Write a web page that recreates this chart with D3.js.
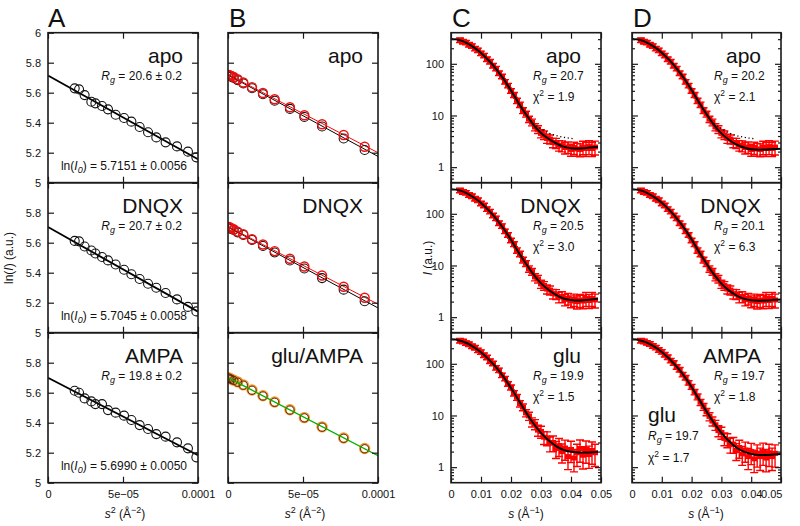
<!DOCTYPE html>
<html><head><meta charset="utf-8">
<script src="https://cdn.jsdelivr.net/npm/d3@7"></script>
<style>
body{margin:0;background:#fff}
svg{font-family:"Liberation Sans",Arial,Helvetica,sans-serif}
</style></head><body>
<svg id="c" width="800" height="526"></svg>
<script>
// ---------------- DATA ----------------
// Panel A: Guinier plots (s^2 vs ln I)
const guinierS2A = [1.78e-5,2.07e-5,2.44e-5,2.89e-5,3.16e-5,3.60e-5,4.00e-5,4.51e-5,5.07e-5,5.56e-5,6.11e-5,6.67e-5,7.22e-5,7.84e-5,8.60e-5,9.33e-5,9.89e-5];
const lnIApoA  = [5.629,5.622,5.584,5.540,5.529,5.511,5.489,5.453,5.431,5.407,5.371,5.336,5.302,5.269,5.242,5.207,5.169];
const lnIDnqxA = [5.612,5.609,5.575,5.548,5.528,5.505,5.482,5.455,5.420,5.390,5.358,5.326,5.300,5.265,5.222,5.172,5.142];
const lnIAmpaA = [5.613,5.600,5.562,5.542,5.524,5.524,5.484,5.467,5.447,5.418,5.384,5.358,5.324,5.307,5.269,5.229,5.169];
const guinierLineS2 = [0, 1e-4];
const guinierLinesA = [[5.7151,5.1566],[5.7045,5.1406],[5.6990,5.1831]];
const namesA = ["apo","DNQX","AMPA"];
const rgA = ["20.6 ± 0.2","20.7 ± 0.2","19.8 ± 0.2"];
const lnI0A = ["5.7151 ± 0.0056","5.7045 ± 0.0058","5.6990 ± 0.0050"];

// Panel B
const s2B = [0,0.11e-5,0.22e-5,0.38e-5,0.64e-5,1.02e-5,1.6e-5,2.33e-5,3.11e-5,4.13e-5,5.09e-5,6.27e-5,7.71e-5,9.11e-5];
const bApoRed    = [5.720,5.717,5.712,5.705,5.690,5.668,5.637,5.598,5.556,5.503,5.450,5.390,5.318,5.240];
const bApoBlack  = [5.718,5.713,5.707,5.698,5.684,5.662,5.630,5.590,5.546,5.492,5.438,5.375,5.295,5.218];
const bDnqxRed   = [5.707,5.703,5.696,5.690,5.674,5.656,5.623,5.588,5.544,5.493,5.441,5.381,5.306,5.233];
const bDnqxBlack = [5.705,5.700,5.692,5.685,5.669,5.651,5.618,5.578,5.535,5.481,5.428,5.364,5.287,5.210];
const bGluOrange = [5.700,5.696,5.690,5.684,5.672,5.652,5.618,5.580,5.538,5.486,5.434,5.372,5.298,5.228];
const bAmpaDark  = [5.699,5.695,5.689,5.682,5.670,5.650,5.616,5.578,5.536,5.484,5.432,5.370,5.296,5.226];
const bLinesRed   = [[5.722,5.200],[5.708,5.190]];
const bLinesBlack = [[5.718,5.175],[5.705,5.165]];
const bLineGreen  = [5.700,5.180];
const namesB = ["apo","DNQX","glu/AMPA"];

// Axis tick values / labels
const yTicksAB = [5,5.2,5.4,5.6,5.8,6];
const yTickLabelsAB = ["5","5.2","5.4","5.6","5.8","6"];
const xTicksAB = [0,5e-5,1e-4];
const xTickLabelsAB = ["0","5e\u221205","0.0001"];
const xTicksCD = [0,0.01,0.02,0.03,0.04,0.05];
const xTickLabelsCD = ["0","0.01","0.02","0.03","0.04","0.05"];
const yMajorCD = [1,10,100];
const yMajorLabelsCD = ["1","10","100"];
const yMinorCD = [0.6,0.7,0.8,0.9,2,3,4,5,6,7,8,9,20,30,40,50,60,70,80,90,200,300];

// Panels C/D: scattering profiles
const sData = [0.003,0.004,0.005,0.006,0.007,0.008,0.009,0.010,0.011,0.012,0.013,0.014,0.015,0.016,0.017,0.018,0.019,0.020,0.021,0.022,0.023,0.024,0.025,0.026,0.027,0.028,0.029,0.030,0.031,0.032,0.033,0.034,0.035,0.036,0.037,0.038,0.039,0.040,0.041,0.042,0.043,0.044,0.045,0.046,0.047,0.048];
const dataApo  = [287,268,258,235,221,198,183,160,145,123,110,92,81,66,57,45,38,30,25,19.3,16.2,12.5,10.7,8.5,7.4,6.0,5.4,4.5,4.2,3.6,3.5,3.0,2.95,2.65,2.6,2.4,2.45,2.2,2.4,2.25,2.2,2.45,2.3,2.5,2.3,2.45];
const dataDnqx = [284,266,256,233,220,196,184,159,146,124,111,93,82,66,58,46,39,30.5,26,19.6,16.8,12.8,11,8.6,7.6,6.0,5.5,4.4,4.1,3.5,3.35,2.85,2.8,2.45,2.5,2.2,2.3,2.05,2.2,2.0,2.15,2.05,2.3,2.1,2.3,2.15];
const dataGlu  = [280,271,253,241,220,205,183,169,147,133,113,102,84,75,60,52,41,35,27,22.5,17,14.5,11.2,9.8,7.5,6.8,5.2,4.9,3.8,3.7,2.9,3.0,2.3,2.6,2.0,2.35,1.6,2.2,1.5,1.9,2.3,1.7,2.2,1.75,2.1,1.9];
const dataAmpa = [281,272,255,243,222,207,186,171,150,135,116,104,87,77,62,54,43,36,28.5,23,18,14.8,11.8,9.6,7.8,6.6,5.1,4.7,3.6,3.4,2.75,2.8,2.1,2.4,1.8,2.15,1.6,2.0,1.45,1.85,1.6,2.0,1.5,1.9,1.6,1.85];
const errRow12 = [.1,.1,.1,.1,.1,.1,.1,.1,.1,.1,.1,.1,.1,.1,.1,.1,.1,.1,.11,.12,.12,.13,.13,.14,.15,.16,.17,.18,.19,.2,.2,.21,.22,.23,.24,.25,.25,.26,.27,.28,.28,.29,.3,.3,.3,.3];
const errRow3  = [.1,.1,.1,.1,.1,.1,.1,.1,.1,.1,.1,.1,.1,.1,.1,.1,.1,.11,.12,.13,.14,.15,.16,.18,.2,.22,.24,.26,.28,.3,.32,.34,.36,.38,.4,.42,.44,.44,.46,.46,.46,.46,.46,.46,.46,.46];
const fitSC = [0,0.0025,0.005,0.0075,0.01,0.0125,0.015,0.0175,0.02,0.0225,0.025,0.0275,0.03,0.0325,0.035,0.0375,0.04,0.0425,0.045,0.0475,0.049];
const fitSD = [0,0.0025,0.005,0.0075,0.01,0.0125,0.015,0.0175,0.02,0.0225,0.025,0.0275,0.03,0.0325,0.035,0.0375,0.04,0.0425,0.045,0.0475,0.05];
const fitC1 = [303,291,256,210,162,117,80,51,30.5,17.5,10.5,6.6,4.6,3.55,2.9,2.5,2.33,2.3,2.35,2.42,2.47];
const fitC2 = [300,288,254,209,162,118,81,52,31.5,18,10.8,6.7,4.5,3.4,2.7,2.3,2.15,2.1,2.15,2.22,2.27];
const fitC3 = [298,287,256,213,167,123,86,56,34,20,11.5,7.0,4.6,3.3,2.55,2.15,1.98,1.93,1.92,1.95,1.98];
const fitD1 = [303,291,257,212,164,119,81,52,31,17.8,10.6,6.6,4.5,3.4,2.75,2.4,2.22,2.18,2.2,2.25,2.28];
const fitD2 = [300,288,255,210,163,119,82,53,32,18.3,10.9,6.7,4.45,3.3,2.65,2.28,2.12,2.08,2.1,2.16,2.2];
const fitD3 = [298,287,257,215,169,125,88,58,35.5,20.5,12,7.2,4.6,3.2,2.4,2.0,1.8,1.72,1.72,1.76,1.8];
const dotS   = [0,0.0025,0.005,0.0075,0.01,0.0125,0.015,0.0175,0.02,0.0225,0.025,0.0275,0.03,0.0325,0.035,0.0375,0.04,0.041];
const dotApo = [303,291,256,210,162,117,80,51,30.5,17.6,10.7,7.0,5.5,4.6,4.1,3.8,3.6,3.55];
const namesC = ["apo","DNQX","glu"];
const namesD = ["apo","DNQX","AMPA"];
const rgC = ["20.7","20.5","19.9"], chiC = ["1.9","3.0","1.5"];
const rgD = ["20.2","20.1","19.7"], chiD = ["2.1","6.3","1.8"];
const extraD3 = {name:"glu", rg:"19.7", chi:"1.7"};

// ---------------- LAYOUT ----------------
const FONT = '"Liberation Sans", Arial, Helvetica, sans-serif';
const rowTop = [32.7,182.7,332.7], rowH = 150;
const PX = {A:[48,198], B:[228,378], C:[451,601], D:[632,781]};
const INK = "#1a1a1a";
const svg = d3.select("#c");

function addAxis(axis, tx, ty, size){
  const a = svg.append("g").attr("transform",`translate(${tx},${ty})`).call(axis);
  a.select(".domain").remove();
  a.attr("font-size", size||11).attr("font-family", FONT);
  a.selectAll("line").attr("stroke", INK).attr("stroke-width", 1.2);
  a.selectAll("text").attr("fill", "#111");
  return a;
}
function frame(x0,x1,y0,y1){
  svg.append("rect").attr("x",x0).attr("y",y0).attr("width",x1-x0).attr("height",y1-y0)
    .attr("fill","none").attr("stroke",INK).attr("stroke-width",1.6);
}
function label(x,y,txt,size,anchor){
  return svg.append("text").attr("x",x).attr("y",y).attr("font-size",size)
    .attr("text-anchor",anchor||"start").attr("fill","#111").text(txt);
}
function rgText(x,y,val,anchor){
  const t = svg.append("text").attr("x",x).attr("y",y).attr("font-size",12).attr("fill","#111").attr("text-anchor",anchor||"start");
  t.append("tspan").attr("font-style","italic").text("R");
  t.append("tspan").attr("font-style","italic").attr("font-size",9).attr("dy",3).text("g");
  t.append("tspan").attr("dy",-3).text(" = "+val);
}
function chiText(x,y,val){
  const t = svg.append("text").attr("x",x).attr("y",y).attr("font-size",12).attr("fill","#111");
  t.append("tspan").text("\u03c7");
  t.append("tspan").attr("font-size",8.5).attr("dy",-5).text("2");
  t.append("tspan").attr("dy",5).text(" = "+val);
}

// Panel letters
[["A",48],["B",229],["C",452],["D",633]].forEach(([l,x])=>label(x,26.5,l,26));

// ---------------- PANELS A & B ----------------
["A","B"].forEach(col=>{
  const [x0,x1] = PX[col];
  rowTop.forEach((top,r)=>{
    const x = d3.scaleLinear([0,1e-4],[x0,x1]);
    const y = d3.scaleLinear([5,6],[top+rowH, top]);
    const clip = "clip"+col+r;
    svg.append("clipPath").attr("id",clip).append("rect").attr("x",x0).attr("y",top).attr("width",x1-x0).attr("height",rowH);
    const g = svg.append("g").attr("clip-path",`url(#${clip})`);
    const line = d3.line().x(d=>x(d[0])).y(d=>y(d[1]));
    if(col==="A"){
      g.append("path").attr("d",line(guinierLineS2.map((s,i)=>[s,guinierLinesA[r][i]])))
        .attr("stroke","#000").attr("stroke-width",1.8).attr("fill","none");
      const vals = [lnIApoA,lnIDnqxA,lnIAmpaA][r];
      g.selectAll(null).data(guinierS2A.map((s,i)=>[s,vals[i]])).join("circle")
        .attr("cx",d=>x(d[0])).attr("cy",d=>y(d[1])).attr("r",4.5)
        .attr("fill","none").attr("stroke","#111").attr("stroke-width",1.1);
    } else {
      if(r<2){
        const blk = [bApoBlack,bDnqxBlack][r], red = [bApoRed,bDnqxRed][r];
        g.append("path").attr("d",line(guinierLineS2.map((s,i)=>[s,bLinesBlack[r][i]])))
          .attr("stroke","#000").attr("stroke-width",1).attr("fill","none");
        g.append("path").attr("d",line(guinierLineS2.map((s,i)=>[s,bLinesRed[r][i]])))
          .attr("stroke","#ff0000").attr("stroke-width",1).attr("fill","none");
        g.selectAll(null).data(s2B.map((s,i)=>[s,blk[i]])).join("circle")
          .attr("cx",d=>x(d[0])).attr("cy",d=>y(d[1])).attr("r",4.5)
          .attr("fill","none").attr("stroke","#111").attr("stroke-width",1.1);
        g.selectAll(null).data(s2B.map((s,i)=>[s,red[i]])).join("circle")
          .attr("cx",d=>x(d[0])).attr("cy",d=>y(d[1])).attr("r",4.5)
          .attr("fill","none").attr("stroke","#ee1010").attr("stroke-width",1.4);
      } else {
        g.selectAll(null).data(s2B.map((s,i)=>[s,bGluOrange[i]])).join("circle")
          .attr("cx",d=>x(d[0])).attr("cy",d=>y(d[1])).attr("r",4.6)
          .attr("fill","none").attr("stroke","#f09a30").attr("stroke-width",2.2);
        g.selectAll(null).data(s2B.map((s,i)=>[s,bAmpaDark[i]])).join("circle")
          .attr("cx",d=>x(d[0])).attr("cy",d=>y(d[1])).attr("r",4.2)
          .attr("fill","none").attr("stroke","#5a1e10").attr("stroke-width",0.9);
        g.append("path").attr("d",line(guinierLineS2.map((s,i)=>[s,bLineGreen[i]])))
          .attr("stroke","#00b000").attr("stroke-width",1.3).attr("fill","none");
      }
    }
    // axes
    addAxis(d3.axisLeft(y).tickValues(yTicksAB).tickSize(-6).tickPadding(7)
      .tickFormat((d,i)=> col==="A" && !(r>0 && i===yTicksAB.length-1) ? yTickLabelsAB[i] : ""), x0, 0);
    addAxis(d3.axisRight(y).tickValues(yTicksAB).tickSize(-6).tickFormat(""), x1, 0);
    addAxis(d3.axisTop(x).tickValues(xTicksAB).tickSize(-6).tickFormat(""), 0, top);
    addAxis(d3.axisBottom(x).tickValues(xTicksAB).tickSize(-6).tickPadding(8)
      .tickFormat((d,i)=> r===2 ? xTickLabelsAB[i] : ""), 0, top+rowH);
    frame(x0,x1,top,top+rowH);
    // texts
    const nm = col==="A" ? namesA[r] : namesB[r];
    label(x1-15, top+30, nm, 21, "end");
    if(col==="A"){
      rgText(x0+134, top+47.3, rgA[r], "end");
      const t = svg.append("text").attr("x",x0+139).attr("y",top+137.3).attr("font-size",12)
        .attr("fill","#111").attr("text-anchor","end");
      t.append("tspan").text("ln(");
      t.append("tspan").attr("font-style","italic").text("I");
      t.append("tspan").attr("font-style","italic").attr("font-size",9).attr("dy",3).text("0");
      t.append("tspan").attr("dy",-3).text(") = "+lnI0A[r]);
    }
  });
});

// ---------------- PANELS C & D ----------------
const cdSpecs = [
  {col:"C",r:0,data:dataApo,err:errRow12,fitS:fitSC,fit:fitC1,dot:true,name:namesC[0],rg:rgC[0],chi:chiC[0]},
  {col:"C",r:1,data:dataDnqx,err:errRow12,fitS:fitSC,fit:fitC2,dot:false,name:namesC[1],rg:rgC[1],chi:chiC[1]},
  {col:"C",r:2,data:dataGlu,err:errRow3,fitS:fitSC,fit:fitC3,dot:false,name:namesC[2],rg:rgC[2],chi:chiC[2]},
  {col:"D",r:0,data:dataApo,err:errRow12,fitS:fitSD,fit:fitD1,dot:true,name:namesD[0],rg:rgD[0],chi:chiD[0]},
  {col:"D",r:1,data:dataDnqx,err:errRow12,fitS:fitSD,fit:fitD2,dot:false,name:namesD[1],rg:rgD[1],chi:chiD[1]},
  {col:"D",r:2,data:dataAmpa,err:errRow3,fitS:fitSD,fit:fitD3,dot:false,name:namesD[2],rg:rgD[2],chi:chiD[2]}
];
cdSpecs.forEach(p=>{
  const [x0,x1] = PX[p.col];
  const top = rowTop[p.r];
  const x = d3.scaleLinear([0,0.05],[x0,x1]);
  const y = d3.scaleLog([0.5,400],[top+rowH, top]);
  const clip = "clip"+p.col+p.r;
  svg.append("clipPath").attr("id",clip).append("rect").attr("x",x0).attr("y",top).attr("width",x1-x0).attr("height",rowH);
  const g = svg.append("g").attr("clip-path",`url(#${clip})`);
  // error bars
  const cap = 4;
  g.append("path").attr("fill","none").attr("stroke","#ff0000").attr("stroke-width",1.4)
    .attr("d", sData.map((s,i)=>{
      const v = p.data[i], e = p.err[i];
      const xx = x(s), ylo = y(v*(1-e)), yhi = y(v*(1+e));
      return `M${xx},${ylo}L${xx},${yhi}M${xx-cap},${ylo}L${xx+cap},${ylo}M${xx-cap},${yhi}L${xx+cap},${yhi}`;
    }).join(""));
  g.selectAll(null).data(sData.map((s,i)=>[s,p.data[i]])).join("rect")
    .attr("x",d=>x(d[0])-3).attr("y",d=>y(d[1])-2.5).attr("width",6).attr("height",5).attr("fill","#ff0000");
  const ln = d3.line().x(d=>x(d[0])).y(d=>y(d[1])).curve(d3.curveMonotoneX);
  if(p.dot){
    g.append("path").attr("d",ln(dotS.map((s,i)=>[s,dotApo[i]])))
      .attr("fill","none").attr("stroke","#000").attr("stroke-width",1.3).attr("stroke-dasharray","1.2,2.6");
  }
  g.append("path").attr("d",ln(p.fitS.map((s,i)=>[s,p.fit[i]])))
    .attr("fill","none").attr("stroke","#000").attr("stroke-width",2);
  // axes
  addAxis(d3.axisLeft(y).tickValues(yMajorCD).tickSize(-6).tickPadding(7)
    .tickFormat((d,i)=> p.col==="C" ? yMajorLabelsCD[i] : ""), x0, 0);
  addAxis(d3.axisLeft(y).tickValues(yMinorCD).tickSize(-3).tickFormat(""), x0, 0);
  addAxis(d3.axisRight(y).tickValues(yMajorCD).tickSize(-6).tickFormat(""), x1, 0);
  addAxis(d3.axisRight(y).tickValues(yMinorCD).tickSize(-3).tickFormat(""), x1, 0);
  addAxis(d3.axisTop(x).tickValues(xTicksCD).tickSize(-6).tickFormat(""), 0, top);
  const bax = addAxis(d3.axisBottom(x).tickValues(xTicksCD).tickSize(-6).tickPadding(8)
    .tickFormat((d,i)=> p.r===2 ? xTickLabelsCD[i] : ""), 0, top+rowH);
  if(p.col==="D" && p.r===2){
    bax.selectAll(".tick").filter((d,i)=>i===xTicksCD.length-1).select("text").attr("text-anchor","end").attr("x",1);
  }
  frame(x0,x1,top,top+rowH);
  label(x1-20, top+30, p.name, 21, "end");
  rgText(x0+82, top+47, p.rg);
  chiText(x0+82, top+68, p.chi);
  if(p.col==="D" && p.r===2){
    label(x0+16, top+89, extraD3.name, 21);
    rgText(x0+16, top+107.3, extraD3.rg);
    chiText(x0+16, top+129, extraD3.chi);
  }
});

// ---------------- AXIS TITLES ----------------
function yTitle(cx,cy,parts){
  const t = svg.append("text").attr("transform",`translate(${cx},${cy}) rotate(-90)`)
    .attr("font-size",12).attr("text-anchor","middle").attr("fill","#111");
  parts.forEach(p=>{ const s=t.append("tspan").text(p[0]); if(p[1]) s.attr("font-style","italic"); });
}
yTitle(13,258,[["ln("],["I",1],[") (a.u.)"]]);
yTitle(432,258,[["I",1],[" (a.u.)"]]);
function xTitle(cx,exp){
  const t = svg.append("text").attr("x",cx).attr("y",518).attr("font-size",12).attr("text-anchor","middle").attr("fill","#111");
  t.append("tspan").attr("font-style","italic").text("s");
  if(exp==="2"){
    t.append("tspan").attr("font-size",9).attr("dy",-5).text("2");
    t.append("tspan").attr("dy",5).text("  (\u00c5");
    t.append("tspan").attr("font-size",9).attr("dy",-5).text("\u22122");
    t.append("tspan").attr("dy",5).text(")");
  } else {
    t.append("tspan").text("  (\u00c5");
    t.append("tspan").attr("font-size",9).attr("dy",-5).text("\u22121");
    t.append("tspan").attr("dy",5).text(")");
  }
}
xTitle(125,"2"); xTitle(305,"2"); xTitle(526,"1"); xTitle(706,"1");
</script>
</body></html>
